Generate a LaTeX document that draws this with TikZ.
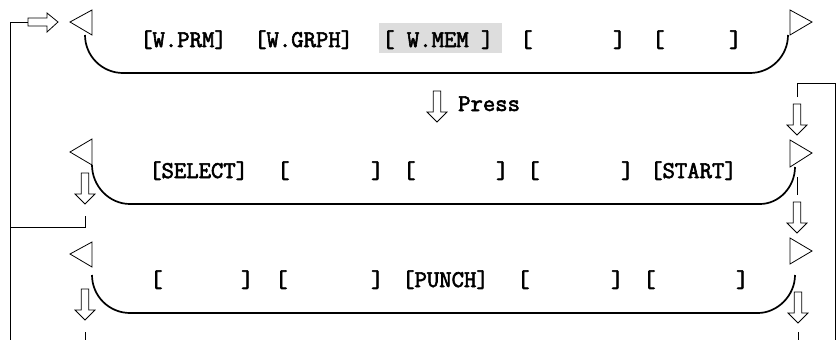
\documentclass[tikz,border=0pt]{standalone}
\usepackage{fontspec}
\newfontfamily\courf{Latin Modern Mono}[FakeBold=2.5]
\definecolor{hl}{HTML}{DDDDDD}
\tikzset{
  txt/.style={font=\courf\fontsize{24}{24}\selectfont, inner sep=0pt, anchor=base west},
  brk/.style={line width=1.7pt},
  thinline/.style={line width=0.8pt},
  tri/.style={draw, line width=0.8pt, fill=white, line join=miter},
  harrow/.style={draw, line width=0.8pt, fill=white, line join=miter},
}
\newcommand\hollowdown[2]{%
  \draw[harrow] (#1-3.8,#2) -- (#1+3.8,#2) -- (#1+3.8,#2+21) -- (#1+10,#2+21) -- (#1,#2+31) -- (#1-10,#2+21) -- (#1-3.8,#2+21) -- cycle;}
\begin{document}
\begin{tikzpicture}[x=1pt,y=-1pt]
\useasboundingbox (0,0) rectangle (836,340);

% highlight
\fill[hl] (379,23) rectangle (502,53);

% row brackets
\draw[brk] (85,35) .. controls (85,56) and (102,73) .. (123,73) -- (750,73) .. controls (771,73) and (788,56) .. (788,35);
\draw[brk] (92,165) .. controls (92,186) and (109,204) .. (130,204) -- (760,204) .. controls (779,204) and (795,187) .. (795,167);
\draw[brk] (92,275) .. controls (92,296) and (109,313) .. (130,313) -- (758,313) .. controls (777,313) and (795,296) .. (795,275);

% triangles
\draw[tri] (70,22) -- (92,10) -- (92,35) -- cycle;
\draw[tri] (790,10) -- (812,22) -- (790,35) -- cycle;
\draw[tri] (70,152) -- (92,139) -- (92,165) -- cycle;
\draw[tri] (790,140) -- (812,153) -- (790,167) -- cycle;
\draw[tri] (70,254) -- (92,242) -- (92,267) -- cycle;
\draw[tri] (790,238) -- (812,251) -- (790,264) -- cycle;

% connector lines
\coordinate (lt) at (10,22);
\coordinate (la) at (28,22);
\coordinate (lb) at (10,340);
\coordinate (lm) at (10,227);
\coordinate (lmr) at (85,227);
\coordinate (lmu) at (85,216);
\draw[thinline] (la) -- (lt) -- (lb);
\draw[thinline] (lm) -- (lmr) -- (lmu);
\draw[thinline] (85,332) -- (85,340);
\draw[thinline] (797,97) -- (797,83) -- (835,83) -- (835,340);
\draw[thinline] (797,177) -- (797,195);
\draw[thinline] (798,332) -- (798,340);

% hollow right arrow
\draw[harrow] (28,18) -- (47,18) -- (47,13) -- (58,22) -- (47,32) -- (47,26) -- (28,26) -- cycle;

% hollow down arrows
\hollowdown{437}{91}
\hollowdown{85}{173}
\hollowdown{85}{289}
\hollowdown{797}{104}
\hollowdown{797}{202}
\hollowdown{798}{292}

% texts row 1
\node[txt] (t1a) at (140,47) {[W.PRM]};
\node[txt] (t1b) at (254,47) {[W.GRPH]};
\node[txt] (t1c) at (382,47) {[ W.MEM ]};
\node[txt] (t1d) at (520,47) {[};
\node[txt] (t1e) at (613,47) {]};
\node[txt] (t1f) at (652,47) {[};
\node[txt] (t1g) at (729,47) {]};
\node[txt] (press) at (458,111) {Press};
% row 2
\node[txt] (t2a) at (149,178) {[SELECT]};
\node[txt] (t2b) at (277,178) {[};
\node[txt] (t2c) at (371,178) {]};
\node[txt] (t2d) at (403,178) {[};
\node[txt] (t2e) at (496,178) {]};
\node[txt] (t2f) at (527,178) {[};
\node[txt] (t2g) at (621,178) {]};
\node[txt] (t2h) at (650,178) {[START]};
% row 3
\node[txt] (t3a) at (150,287) {[};
\node[txt] (t3b) at (241,287) {]};
\node[txt] (t3c) at (275,287) {[};
\node[txt] (t3d) at (371,287) {]};
\node[txt] (t3e) at (402,287) {[PUNCH]};
\node[txt] (t3f) at (517,287) {[};
\node[txt] (t3g) at (611,287) {]};
\node[txt] (t3h) at (643,287) {[};
\node[txt] (t3i) at (736,287) {]};
\end{tikzpicture}
\end{document}
